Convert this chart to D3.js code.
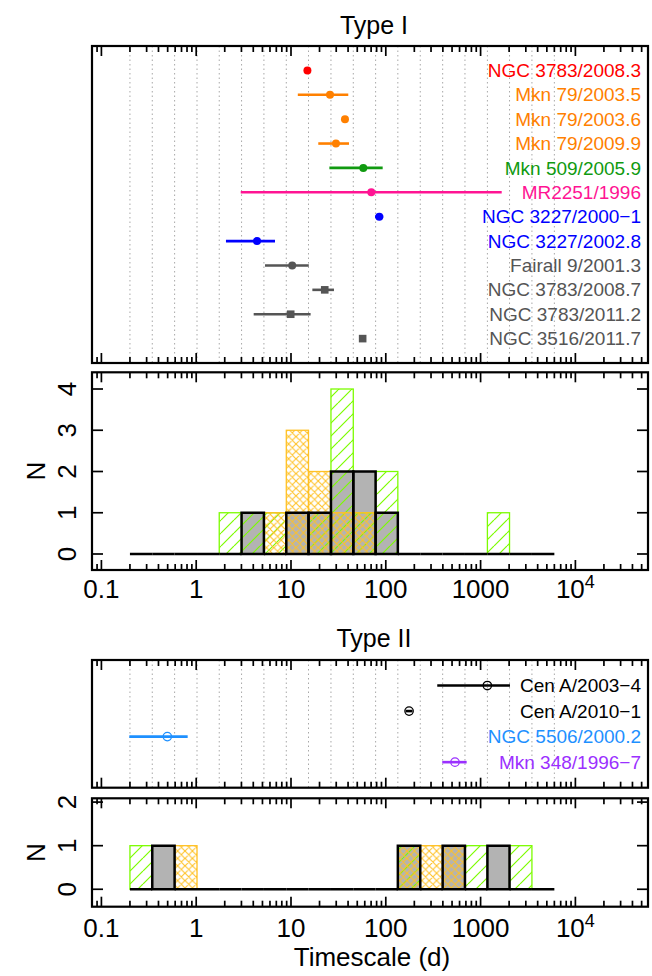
<!DOCTYPE html>
<html>
<head>
<meta charset="utf-8">
<script src="https://cdn.jsdelivr.net/npm/d3@7"></script>
<style>
  html, body { margin: 0; padding: 0; background: #fff; }
  svg { display: block; font-family: "Liberation Sans", Arial, Helvetica, sans-serif; }
</style>
</head>
<body>
<svg id="chart" width="652" height="976"></svg>
<script>
// ---------------- data ----------------
// Type I sources: timescale (d) with lower / upper range (null = no range drawn)
const typeINames  = ["NGC 3783/2008.3", "Mkn 79/2003.5", "Mkn 79/2003.6", "Mkn 79/2009.9",
                     "Mkn 509/2005.9", "MR2251/1996", "NGC 3227/2000\u22121", "NGC 3227/2002.8",
                     "Fairall 9/2001.3", "NGC 3783/2008.7", "NGC 3783/2011.2", "NGC 3516/2011.7"];
const typeIColors = ["#ff0000", "#ff8000", "#ff8000", "#ff8000", "#109a10", "#ff1493",
                     "#0000ff", "#0000ff", "#555555", "#555555", "#555555", "#555555"];
const typeIMarker = ["circle", "circle", "circle", "circle", "circle", "circle",
                     "circle", "circle", "circle", "square", "square", "square"];
const typeIValue  = [14.9, 25.8, 37.1, 29.8, 57.9, 70.3, 85.4, 4.38, 10.3, 22.7, 9.93, 57.0];
const typeILow    = [null, 11.8, null, 19.4, 25.4, 2.95, 77, 2.06, 5.32, 16.8, 4.04, null];
const typeIHigh   = [null, 40.2, null, 40.9, 92.7, 1670, 94, 6.78, 15.4, 28.4, 16.1, null];

// Type II sources
const typeIINames  = ["Cen A/2003\u22124", "Cen A/2010\u22121", "NGC 5506/2000.2", "Mkn 348/1996\u22127"];
const typeIIColors = ["#000000", "#000000", "#1e90ff", "#9b30ff"];
const typeIIValue  = [1178, 176, 0.496, 537];
const typeIILow    = [349, 162, 0.197, 394];
const typeIIHigh   = [2042, 191, 0.813, 713];

// histogram bin edges (d), shared by both histograms
const binEdges = [0.2, 0.344, 0.592, 1.02, 1.75, 3.01, 5.18, 8.92, 15.3, 26.4, 45.4,
                  78.1, 134, 231, 398, 684, 1180, 2020, 3480, 6000];

// counts per bin
const histIGray    = [0,0,0,0,0,1,0,1,1,2,2,1,0,0,0,0,0,0,0];
const histIGreen   = [0,0,0,0,1,1,1,0,1,4,1,2,0,0,0,0,1,0,0];
const histIOrange  = [0,0,0,0,0,0,1,3,2,1,1,0,0,0,0,0,0,0,0];
const histIIGray   = [0,1,0,0,0,0,0,0,0,0,0,0,1,0,1,0,1,0,0];
const histIIGreen  = [1,0,0,0,0,0,0,0,0,0,0,0,1,0,0,1,0,1,0];
const histIIOrange = [0,0,1,0,0,0,0,0,0,0,0,0,1,1,1,0,0,0,0];

// axis ticks
const majorTicks  = [0.1, 1, 10, 100, 1000, 10000];
const majorLabels = ["0.1", "1", "10", "100", "1000", "10^4"];
const histITicks  = [0, 1, 2, 3, 4];
const histIITicks = [0, 1, 2];

// ---------------- layout ----------------
const svg = d3.select("#chart");
const X0 = 92, X1 = 648;
const x = d3.scaleLog()
  .domain([Math.pow(10, -1.0992), Math.pow(10, 4.766)])
  .range([X0, X1]);

const panels = {
  ptsI:  { top: 46,    bottom: 363 },
  histI: { top: 372.3, bottom: 570 },
  ptsII: { top: 660,   bottom: 787.7 },
  histII:{ top: 798.3, bottom: 906.7 }
};

const yPtsI   = d3.scaleLinear().domain([0, 13]).range([panels.ptsI.bottom, panels.ptsI.top]);
const yPtsII  = d3.scaleLinear().domain([0, 5]).range([panels.ptsII.bottom, panels.ptsII.top]);
const yHistI  = d3.scaleLinear().domain([-0.388, 4.405]).range([panels.histI.bottom, panels.histI.top]);
const yHistII = d3.scaleLinear().domain([-0.4, 2.087]).range([panels.histII.bottom, panels.histII.top]);

const GREEN = "#7cfc00", ORANGE = "#ffc125", GRAY = "#b3b3b3";

// ---------------- hatch patterns ----------------
const defs = svg.append("defs");
(function () {
  const s = 13;
  defs.append("pattern").attr("id", "hatchGreen")
    .attr("patternUnits", "userSpaceOnUse").attr("width", s).attr("height", s)
    .append("path")
    .attr("d", `M0,${s}L${s},0M${-s},${s}L0,0M${s},${s}L${2*s},0`)
    .attr("stroke", GREEN).attr("stroke-width", 1.2).attr("fill", "none");
  const t = 7.4;
  defs.append("pattern").attr("id", "hatchOrange")
    .attr("patternUnits", "userSpaceOnUse").attr("width", t).attr("height", t)
    .append("path")
    .attr("d", `M0,${t}L${t},0M${-t},${t}L0,0M${t},${t}L${2*t},0` +
               `M0,0L${t},${t}M${t},0L${2*t},${t}M${-t},0L0,${t}`)
    .attr("stroke", ORANGE).attr("stroke-width", 1.1).attr("fill", "none");
})();

// ---------------- helpers ----------------
function minorTicks() {
  const out = [];
  for (let e = -2; e <= 5; e++) {
    for (let m = 2; m <= 9; m++) {
      const v = m * Math.pow(10, e);
      const px = x(v);
      if (px > X0 + 1 && px < X1 - 1) out.push(v);
    }
  }
  return out;
}
const minors = minorTicks();

function frame(p) {
  svg.append("rect")
    .attr("x", X0).attr("y", p.top)
    .attr("width", X1 - X0).attr("height", p.bottom - p.top)
    .attr("fill", "none").attr("stroke", "#000").attr("stroke-width", 2.2);
}

function xTicks(p) {
  const g = svg.append("g").attr("stroke", "#000").attr("stroke-width", 1.7);
  [p.top, p.bottom].forEach((yy, i) => {
    const dir = i === 0 ? 1 : -1;
    g.selectAll(null).data(majorTicks).enter().append("line")
      .attr("x1", d => x(d)).attr("x2", d => x(d))
      .attr("y1", yy).attr("y2", yy + dir * 10);
    g.selectAll(null).data(minors).enter().append("line")
      .attr("x1", d => x(d)).attr("x2", d => x(d))
      .attr("y1", yy).attr("y2", yy + dir * 6);
  });
}

function xLabels(baseline) {
  const g = svg.append("g").attr("font-size", 26).attr("text-anchor", "middle").attr("fill", "#000");
  majorTicks.forEach((v, i) => {
    const lab = majorLabels[i];
    const t = g.append("text").attr("x", x(v)).attr("y", baseline);
    if (lab.indexOf("^") >= 0) {
      const [b, e] = lab.split("^");
      t.append("tspan").text(b);
      t.append("tspan").attr("font-size", 18).attr("dy", -10).text(e);
    } else {
      t.text(lab);
    }
  });
}

function yTicks(p, scale, ticks) {
  const g = svg.append("g").attr("stroke", "#000").attr("stroke-width", 1.7);
  g.selectAll(null).data(ticks).enter().append("line")
    .attr("x1", X0).attr("x2", X0 + 11)
    .attr("y1", d => scale(d)).attr("y2", d => scale(d));
  g.selectAll(null).data(ticks).enter().append("line")
    .attr("x1", X1).attr("x2", X1 - 11)
    .attr("y1", d => scale(d)).attr("y2", d => scale(d));
  const tg = svg.append("g").attr("font-size", 26).attr("text-anchor", "middle");
  ticks.forEach(v => {
    tg.append("text")
      .attr("transform", `translate(76,${scale(v)}) rotate(-90)`)
      .text(String(v));
  });
  svg.append("text").attr("font-size", 26).attr("text-anchor", "middle")
    .attr("transform", `translate(45,${(p.top + p.bottom) / 2}) rotate(-90)`)
    .text("N");
}

function grid(p) {
  svg.append("g").selectAll("line").data(binEdges).enter().append("line")
    .attr("x1", d => x(d)).attr("x2", d => x(d))
    .attr("y1", p.top).attr("y2", p.bottom)
    .attr("stroke", "#a8a8a8").attr("stroke-width", 1)
    .attr("stroke-dasharray", "1.5,3");
}

function histogram(scale, gray, green, orange) {
  const bins = d3.range(binEdges.length - 1).map(i => ({ x0: binEdges[i], x1: binEdges[i + 1], i }));
  const y0 = scale(0);
  const g = svg.append("g");
  // grey filled bars
  g.selectAll(null).data(bins.filter(b => gray[b.i] > 0)).enter().append("rect")
    .attr("x", b => x(b.x0)).attr("width", b => x(b.x1) - x(b.x0))
    .attr("y", b => scale(gray[b.i])).attr("height", b => y0 - scale(gray[b.i]))
    .attr("fill", GRAY);
  // green single hatching
  g.selectAll(null).data(bins.filter(b => green[b.i] > 0)).enter().append("rect")
    .attr("x", b => x(b.x0)).attr("width", b => x(b.x1) - x(b.x0))
    .attr("y", b => scale(green[b.i])).attr("height", b => y0 - scale(green[b.i]))
    .attr("fill", "url(#hatchGreen)").attr("stroke", GREEN).attr("stroke-width", 1.3);
  // orange cross hatching
  g.selectAll(null).data(bins.filter(b => orange[b.i] > 0)).enter().append("rect")
    .attr("x", b => x(b.x0)).attr("width", b => x(b.x1) - x(b.x0))
    .attr("y", b => scale(orange[b.i])).attr("height", b => y0 - scale(orange[b.i]))
    .attr("fill", "url(#hatchOrange)").attr("stroke", ORANGE).attr("stroke-width", 1.3);
  // black outline of the grey histogram (empty bins give the baseline)
  g.selectAll(null).data(bins).enter().append("path")
    .attr("d", b => {
      const a = x(b.x0), c = x(b.x1), t = scale(gray[b.i]);
      return `M${a},${y0}L${a},${t}L${c},${t}L${c},${y0}Z`;
    })
    .attr("fill", "none").attr("stroke", "#000").attr("stroke-width", 2.5)
    .attr("stroke-linejoin", "miter");
}

function points(scale, names, colors, values, lows, highs, markers, open) {
  const n = names.length;
  const g = svg.append("g");
  for (let i = 0; i < n; i++) {
    const yy = scale(n - i);
    const col = colors[i];
    if (lows[i] != null && highs[i] != null) {
      g.append("line")
        .attr("x1", x(lows[i])).attr("x2", x(highs[i]))
        .attr("y1", yy).attr("y2", yy)
        .attr("stroke", col).attr("stroke-width", 2.6);
    }
    const cx = x(values[i]);
    if (open) {
      g.append("circle").attr("cx", cx).attr("cy", yy).attr("r", 4.2)
        .attr("fill", "none").attr("stroke", col).attr("stroke-width", 1.3);
    } else if (markers[i] === "square") {
      g.append("rect").attr("x", cx - 3.8).attr("y", yy - 3.8)
        .attr("width", 7.6).attr("height", 7.6).attr("fill", col);
    } else {
      g.append("circle").attr("cx", cx).attr("cy", yy).attr("r", 4)
        .attr("fill", col);
    }
    g.append("text")
      .attr("x", 641).attr("y", yy).attr("dy", "0.35em")
      .attr("text-anchor", "end").attr("font-size", 19)
      .attr("fill", col).text(names[i]);
  }
}

// ---------------- Type I ----------------
svg.append("text").attr("x", 374).attr("y", 33.5).attr("text-anchor", "middle")
  .attr("font-size", 25).text("Type I");

grid(panels.ptsI);
points(yPtsI, typeINames, typeIColors, typeIValue, typeILow, typeIHigh, typeIMarker, false);
frame(panels.ptsI);
xTicks(panels.ptsI);

histogram(yHistI, histIGray, histIGreen, histIOrange);
frame(panels.histI);
xTicks(panels.histI);
yTicks(panels.histI, yHistI, histITicks);
xLabels(598);

// ---------------- Type II ----------------
svg.append("text").attr("x", 374).attr("y", 646.5).attr("text-anchor", "middle")
  .attr("font-size", 25).text("Type II");

grid(panels.ptsII);
points(yPtsII, typeIINames, typeIIColors, typeIIValue, typeIILow, typeIIHigh,
       typeIINames.map(() => "circle"), true);
frame(panels.ptsII);
xTicks(panels.ptsII);

histogram(yHistII, histIIGray, histIIGreen, histIIOrange);
frame(panels.histII);
xTicks(panels.histII);
yTicks(panels.histII, yHistII, histIITicks);
xLabels(937);

svg.append("text").attr("x", 372).attr("y", 966).attr("text-anchor", "middle")
  .attr("font-size", 26).text("Timescale (d)");
</script>
</body>
</html>
